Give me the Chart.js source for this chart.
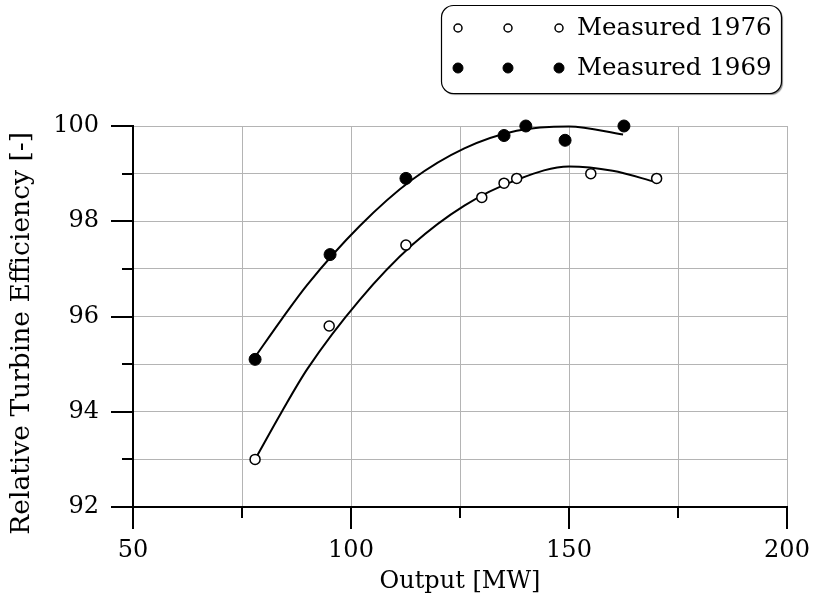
<!DOCTYPE html>
<html>
<head>
<meta charset="utf-8">
<script src="https://cdn.jsdelivr.net/npm/chart.js@4.4.1/dist/chart.umd.min.js"></script>
<style>
  body { margin: 0; background: #fff; }
  #wrap { width: 814px; height: 610px; position: relative; }
</style>
</head>
<body>
<div id="wrap"><canvas id="myChart"></canvas></div>
<script>
// measured points
const output1976 = [78, 95, 112.6, 130, 135.1, 138, 155, 170.1];
const eff1976 = [93.0, 95.8, 97.5, 98.5, 98.8, 98.9, 99.0, 98.9];
const output1969 = [78, 95.2, 112.6, 135.1, 140.1, 149.1, 162.6];
const eff1969 = [95.1, 97.3, 98.9, 99.8, 100.0, 99.7, 100.0];

// fitted curves
const fitX1976 = [78, 84, 90, 102, 114, 126, 138, 150, 160, 170];
const fitY1976 = [93.0, 93.98, 94.9, 96.35, 97.5, 98.33, 98.87, 99.15, 99.06, 98.82];
const fitX1969 = [78, 84, 90, 102, 114, 126, 138, 150, 162.4];
const fitY1969 = [95.15, 95.93, 96.67, 97.9, 98.87, 99.53, 99.9, 99.99, 99.82];

const xTickLabels = [50, 100, 150, 200];
const yTickLabels = [92, 94, 96, 98, 100];
const legendLabels = ['Measured 1976', 'Measured 1969'];

const FONT = "'DejaVu Serif', serif";
Chart.defaults.font.family = FONT;
Chart.defaults.color = '#000';

function pts(xs, ys) {
    return xs.map((x, i) => ({ x: x, y: ys[i] }));
}

// tick marks outside the axes (long for labelled ticks, short otherwise)
const tickMarks = {
    id: 'tickMarks',
    afterDraw(chart) {
        const ctx = chart.ctx;
        const xs = chart.scales.x, ys = chart.scales.y;
        const a = chart.chartArea;
        ctx.save();
        ctx.strokeStyle = '#000';
        ctx.lineWidth = 2;
        ctx.beginPath();
        xs.ticks.forEach(t => {
            const px = Math.round(xs.getPixelForValue(t.value));
            const len = xTickLabels.includes(t.value) ? 22 : 11;
            ctx.moveTo(px, a.bottom);
            ctx.lineTo(px, a.bottom + len);
        });
        ys.ticks.forEach(t => {
            const py = Math.round(ys.getPixelForValue(t.value));
            const len = yTickLabels.includes(t.value) ? 22 : 11;
            ctx.moveTo(a.left, py);
            ctx.lineTo(a.left - len, py);
        });
        ctx.stroke();
        ctx.restore();
    }
};

// boxed legend with three markers per entry
const boxLegend = {
    id: 'boxLegend',
    afterDraw(chart) {
        const ctx = chart.ctx;
        const bx = 441.5, by = 5.5, bw = 340, bh = 88, r = 12;
        ctx.save();
        ctx.fillStyle = '#fff';
        ctx.shadowColor = 'rgba(0,0,0,0.45)';
        ctx.shadowOffsetX = 1.5;
        ctx.shadowOffsetY = 1.5;
        ctx.shadowBlur = 1;
        ctx.beginPath();
        ctx.roundRect(bx, by, bw, bh, r);
        ctx.fill();
        ctx.shadowColor = 'transparent';
        ctx.strokeStyle = '#000';
        ctx.lineWidth = 1.2;
        ctx.stroke();

        const rows = [28, 68];
        const markX = [458, 508, 559];
        const pointSets = [chart.data.datasets[2], chart.data.datasets[3]];
        rows.forEach((y, i) => {
            const ds = pointSets[i];
            markX.forEach(x => {
                ctx.beginPath();
                ctx.arc(x, y, ds.pointRadius - 1, 0, Math.PI * 2);
                ctx.fillStyle = ds.backgroundColor;
                ctx.fill();
                ctx.lineWidth = ds.borderWidth;
                ctx.strokeStyle = ds.borderColor;
                ctx.stroke();
            });
            ctx.fillStyle = '#000';
            ctx.font = '24.5px ' + FONT;
            ctx.textAlign = 'left';
            ctx.textBaseline = 'middle';
            ctx.fillText(legendLabels[i], 577, y + 1);
        });
        ctx.restore();
    }
};

const ctx = document.getElementById('myChart');

new Chart(ctx, {
    type: 'scatter',
    data: {
        datasets: [{
            label: 'fit 1976',
            data: pts(fitX1976, fitY1976),
            showLine: true,
            borderColor: '#000',
            borderWidth: 2,
            pointRadius: 0,
            cubicInterpolationMode: 'monotone',
            clip: false,
            order: 2
        }, {
            label: 'fit 1969',
            data: pts(fitX1969, fitY1969),
            showLine: true,
            borderColor: '#000',
            borderWidth: 2,
            pointRadius: 0,
            cubicInterpolationMode: 'monotone',
            clip: false,
            order: 2
        }, {
            label: legendLabels[0],
            data: pts(output1976, eff1976),
            pointRadius: 5,
            backgroundColor: '#fff',
            borderColor: '#000',
            borderWidth: 1.5,
            clip: false,
            order: 1
        }, {
            label: legendLabels[1],
            data: pts(output1969, eff1969),
            pointRadius: 6,
            backgroundColor: '#000',
            borderColor: '#000',
            borderWidth: 1,
            clip: false,
            order: 1
        }]
    },
    options: {
        responsive: true,
        maintainAspectRatio: false,
        animation: false,
        events: [],
        layout: { padding: { top: 126, right: 27, left: 0, bottom: 0 } },
        plugins: {
            legend: { display: false },
            tooltip: { enabled: false }
        },
        scales: {
            x: {
                type: 'linear',
                min: 50,
                max: 200,
                afterFit: s => { s.height = 103; s.paddingLeft = 0; s.paddingRight = 0; },
                ticks: {
                    stepSize: 25,
                    padding: 29,
                    font: { size: 24 },
                    callback: v => xTickLabels.includes(v) ? v : ''
                },
                grid: { color: '#b4b4b4', lineWidth: 1, drawTicks: false },
                border: { color: '#000', width: 2 },
                title: {
                    display: true,
                    text: 'Output [MW]',
                    font: { size: 24 },
                    padding: { top: 0, bottom: 14 }
                }
            },
            y: {
                min: 92,
                max: 100,
                afterFit: s => { s.width = 133; },
                ticks: {
                    stepSize: 1,
                    padding: 34,
                    font: { size: 24 },
                    callback: v => yTickLabels.includes(v) ? v : ''
                },
                grid: { color: '#b4b4b4', lineWidth: 1, drawTicks: false },
                border: { color: '#000', width: 2 },
                title: {
                    display: true,
                    text: 'Relative Turbine Efficiency [-]    ',
                    font: { size: 26.5 },
                    padding: { top: 6, bottom: 0 }
                }
            }
        }
    },
    plugins: [tickMarks, boxLegend]
});
</script>
</body>
</html>
